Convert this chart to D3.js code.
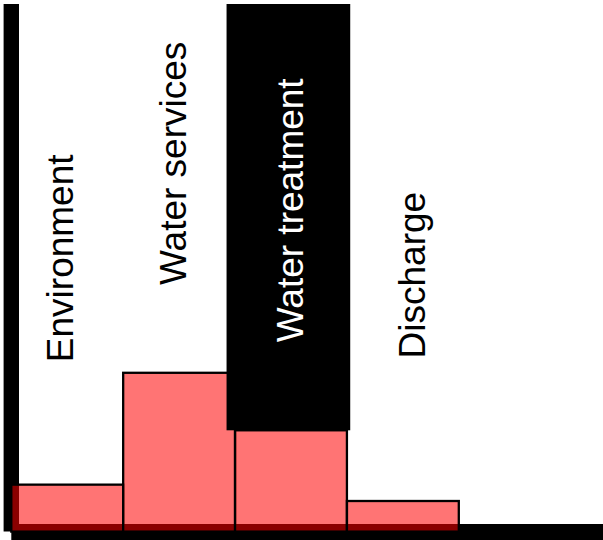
<!DOCTYPE html>
<html>
<head>
<meta charset="utf-8">
<script src="https://cdn.jsdelivr.net/npm/d3@7"></script>
<style>
  html, body { margin: 0; padding: 0; background: #fff; }
  svg { display: block; }
</style>
</head>
<body>
<svg id="chart" width="603" height="540"></svg>
<script>
// ---- data ----
const categories = ["Environment", "Water services", "Water treatment", "Discharge"];
const values = [8.9, 30.1, 19.2, 5.8];
const highlighted = "Water treatment";
const yMax = 100;
// label anchor (centre of each label) in value units
const labelLevels = [51.8, 69.8, 60.9, 48.6];

// ---- layout ----
const W = 603, H = 540;
const origin = { x: 11.3, y: 531.6 };
const plotTop = 4;
const barsRight = 458.8;
const labelDx = [5.7, 6.5, 12.4, 22.6];

const svg = d3.select("#chart");

const x = d3.scaleBand().domain(categories).range([origin.x, barsRight]).padding(0);
const y = d3.scaleLinear().domain([0, yMax]).range([origin.y, plotTop]);

// axes (thick black lines from the origin)
svg.append("line")
  .attr("x1", origin.x).attr("x2", origin.x)
  .attr("y1", y(yMax)).attr("y2", origin.y)
  .attr("stroke", "#000").attr("stroke-width", 15.4);
svg.append("line")
  .attr("x1", origin.x).attr("x2", W + 10)
  .attr("y1", origin.y + 0.5).attr("y2", origin.y + 0.5)
  .attr("stroke", "#000").attr("stroke-width", 16);

// bars
svg.append("g").selectAll("rect")
  .data(categories)
  .join("rect")
  .attr("x", d => x(d))
  .attr("width", x.bandwidth())
  .attr("y", (d, i) => y(values[i]))
  .attr("height", (d, i) => origin.y - y(values[i]))
  .attr("fill", "rgb(255,0,0)")
  .attr("fill-opacity", 0.545)
  .attr("stroke", "#000")
  .attr("stroke-width", 2.3);

// highlight block above the highlighted bar
const hi = categories.indexOf(highlighted);
svg.append("rect")
  .attr("x", x(highlighted) - 8.5)
  .attr("width", x.bandwidth() + 11.8)
  .attr("y", y(yMax))
  .attr("height", y(values[hi]) - y(yMax))
  .attr("fill", "#000");

// rotated labels
svg.append("g").selectAll("text")
  .data(categories)
  .join("text")
  .attr("transform", (d, i) =>
    `translate(${x(d) + x.bandwidth() / 2 + labelDx[i]},${y(labelLevels[i])}) rotate(-90)`)
  .attr("text-anchor", "middle")
  .attr("font-family", "'Liberation Sans', Arial, sans-serif")
  .attr("font-size", 37)
  .attr("fill", d => d === highlighted ? "#fff" : "#000")
  .text(d => d);
</script>
</body>
</html>
